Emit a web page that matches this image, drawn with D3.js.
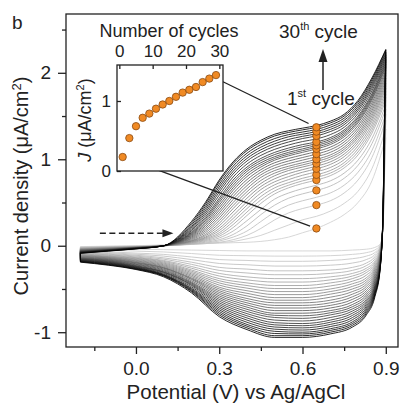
<!DOCTYPE html>
<html><head><meta charset="utf-8">
<script src="https://cdn.jsdelivr.net/npm/d3@7"></script>
<style>
html,body{margin:0;padding:0;background:#fff;}
svg{display:block;font-family:"Liberation Sans",Arial,sans-serif;}
</style></head>
<body>
<svg id="chart" width="403" height="403"></svg>
<script>
// ---------------- data ----------------
const curveCycles = d3.range(1,31);
const markerCycles = [1,3,5,7,9,11,13,15,17,19,21,23,25,27,29];
const jAt065 = [0.20,0.47,0.64,0.76,0.82,0.89,0.95,1.00,1.06,1.12,1.16,1.20,1.27,1.32,1.37];
const markerPotential = 0.65;

const fwdPotential = [-0.2,-0.1,0.0,0.1,0.2,0.25,0.3,0.35,0.4,0.45,0.5,0.55,0.6,0.65,0.7,0.75,0.8,0.85,0.9];
const fwdCurrent = [
 [-0.01,-0.005,0.0,0.01,0.02,0.025,0.03,0.035,0.04,0.05,0.07,0.10,0.15,0.20,0.27,0.36,0.50,0.75,1.25],
 [-0.015,-0.008,-0.003,0.005,0.018,0.025,0.035,0.05,0.08,0.12,0.18,0.24,0.30,0.34,0.40,0.49,0.63,0.89,1.35],
 [-0.02,-0.012,-0.006,0.0,0.015,0.025,0.04,0.07,0.12,0.20,0.30,0.38,0.43,0.47,0.52,0.61,0.76,1.02,1.45],
 [-0.022,-0.014,-0.008,0.0,0.018,0.032,0.055,0.10,0.17,0.28,0.39,0.47,0.52,0.56,0.61,0.70,0.85,1.10,1.52],
 [-0.025,-0.016,-0.01,0.0,0.02,0.04,0.07,0.13,0.23,0.36,0.47,0.55,0.60,0.64,0.69,0.78,0.93,1.18,1.58],
 [-0.028,-0.018,-0.011,0.0,0.025,0.05,0.09,0.17,0.29,0.42,0.54,0.61,0.66,0.70,0.75,0.84,0.99,1.24,1.63],
 [-0.03,-0.02,-0.012,0.0,0.03,0.06,0.11,0.21,0.35,0.49,0.60,0.67,0.72,0.76,0.81,0.90,1.05,1.30,1.68],
 [-0.032,-0.022,-0.013,0.0,0.035,0.07,0.13,0.245,0.39,0.53,0.635,0.70,0.75,0.79,0.84,0.93,1.085,1.335,1.715],
 [-0.035,-0.024,-0.014,0.0,0.04,0.08,0.15,0.28,0.43,0.57,0.67,0.73,0.78,0.82,0.87,0.96,1.12,1.37,1.75],
 [-0.038,-0.026,-0.015,0.0,0.045,0.09,0.175,0.315,0.47,0.61,0.705,0.765,0.815,0.855,0.905,0.995,1.155,1.405,1.785],
 [-0.04,-0.028,-0.016,0.0,0.05,0.10,0.20,0.35,0.51,0.65,0.74,0.80,0.85,0.89,0.94,1.03,1.19,1.44,1.82],
 [-0.042,-0.03,-0.017,0.0,0.055,0.115,0.23,0.39,0.55,0.685,0.775,0.835,0.88,0.92,0.97,1.06,1.22,1.47,1.85],
 [-0.045,-0.032,-0.018,0.0,0.06,0.13,0.26,0.43,0.59,0.72,0.81,0.87,0.91,0.95,1.00,1.09,1.25,1.50,1.88],
 [-0.048,-0.034,-0.019,0.0,0.07,0.15,0.29,0.465,0.625,0.755,0.84,0.895,0.935,0.975,1.025,1.115,1.275,1.53,1.91],
 [-0.05,-0.036,-0.02,0.0,0.08,0.17,0.32,0.50,0.66,0.79,0.87,0.92,0.96,1.00,1.05,1.14,1.30,1.56,1.94],
 [-0.052,-0.038,-0.021,0.0,0.09,0.19,0.35,0.535,0.695,0.82,0.90,0.95,0.99,1.03,1.08,1.17,1.33,1.59,1.97],
 [-0.055,-0.04,-0.022,0.0,0.10,0.21,0.38,0.57,0.73,0.85,0.93,0.98,1.02,1.06,1.11,1.20,1.36,1.62,2.00],
 [-0.058,-0.042,-0.023,0.0,0.11,0.23,0.41,0.605,0.765,0.88,0.96,1.01,1.05,1.09,1.14,1.23,1.39,1.65,2.03],
 [-0.06,-0.044,-0.024,0.0,0.12,0.25,0.44,0.64,0.80,0.91,0.99,1.04,1.08,1.12,1.17,1.26,1.42,1.68,2.06],
 [-0.062,-0.046,-0.025,0.0,0.13,0.27,0.47,0.67,0.83,0.935,1.01,1.06,1.10,1.14,1.19,1.28,1.44,1.70,2.08],
 [-0.065,-0.047,-0.026,0.0,0.14,0.29,0.50,0.70,0.86,0.96,1.03,1.08,1.12,1.16,1.21,1.30,1.46,1.72,2.10],
 [-0.068,-0.048,-0.027,0.0,0.15,0.31,0.525,0.73,0.885,0.985,1.055,1.105,1.145,1.18,1.23,1.32,1.48,1.74,2.12],
 [-0.07,-0.05,-0.028,0.0,0.16,0.33,0.55,0.76,0.91,1.01,1.08,1.13,1.17,1.20,1.25,1.34,1.50,1.76,2.14],
 [-0.072,-0.051,-0.029,0.0,0.175,0.355,0.585,0.795,0.945,1.045,1.115,1.165,1.205,1.235,1.285,1.37,1.53,1.79,2.16],
 [-0.075,-0.052,-0.03,0.0,0.19,0.38,0.62,0.83,0.98,1.08,1.15,1.20,1.24,1.27,1.32,1.40,1.56,1.82,2.18],
 [-0.078,-0.054,-0.031,0.0,0.205,0.405,0.65,0.86,1.01,1.11,1.18,1.23,1.265,1.295,1.345,1.425,1.585,1.845,2.20],
 [-0.08,-0.056,-0.032,0.0,0.22,0.43,0.68,0.89,1.04,1.14,1.21,1.26,1.29,1.32,1.37,1.45,1.61,1.87,2.22],
 [-0.082,-0.058,-0.034,0.0,0.24,0.455,0.71,0.92,1.07,1.17,1.24,1.285,1.315,1.345,1.395,1.475,1.635,1.895,2.24],
 [-0.085,-0.06,-0.035,0.0,0.26,0.48,0.74,0.95,1.10,1.20,1.27,1.31,1.34,1.37,1.42,1.50,1.66,1.92,2.26],
 [-0.088,-0.062,-0.036,0.0,0.28,0.50,0.76,0.97,1.12,1.22,1.29,1.33,1.36,1.39,1.44,1.52,1.68,1.94,2.27]
];

const revPotential = [0.9,0.895,0.89,0.88,0.86,0.83,0.78,0.7,0.6,0.5,0.4,0.3,0.2,0.1,0.0,-0.1,-0.2];
const revCurrent = [
 [1.25,0.75,0.18,0.02,-0.02,-0.04,-0.05,-0.06,-0.06,-0.06,-0.06,-0.055,-0.05,-0.045,-0.04,-0.035,-0.03],
 [1.35,0.80,0.19,0.01,-0.05,-0.08,-0.10,-0.115,-0.12,-0.12,-0.115,-0.11,-0.09,-0.072,-0.062,-0.052,-0.045],
 [1.45,0.85,0.20,0.0,-0.08,-0.12,-0.15,-0.17,-0.18,-0.18,-0.17,-0.16,-0.13,-0.10,-0.085,-0.07,-0.06],
 [1.52,0.88,0.21,-0.01,-0.105,-0.16,-0.20,-0.225,-0.235,-0.235,-0.22,-0.205,-0.16,-0.12,-0.098,-0.08,-0.068],
 [1.58,0.92,0.22,-0.02,-0.13,-0.20,-0.25,-0.28,-0.29,-0.29,-0.27,-0.25,-0.19,-0.14,-0.11,-0.09,-0.075],
 [1.63,0.95,0.23,-0.03,-0.155,-0.23,-0.285,-0.32,-0.335,-0.335,-0.315,-0.285,-0.215,-0.155,-0.12,-0.098,-0.082],
 [1.68,0.98,0.24,-0.04,-0.18,-0.26,-0.32,-0.36,-0.38,-0.38,-0.36,-0.32,-0.24,-0.17,-0.13,-0.105,-0.09],
 [1.715,1.00,0.245,-0.05,-0.20,-0.285,-0.35,-0.395,-0.42,-0.42,-0.395,-0.35,-0.26,-0.18,-0.138,-0.112,-0.095],
 [1.75,1.02,0.25,-0.06,-0.22,-0.31,-0.38,-0.43,-0.46,-0.46,-0.43,-0.38,-0.28,-0.19,-0.145,-0.12,-0.10],
 [1.785,1.04,0.255,-0.07,-0.24,-0.34,-0.41,-0.465,-0.495,-0.495,-0.46,-0.405,-0.295,-0.20,-0.152,-0.125,-0.105],
 [1.82,1.06,0.26,-0.08,-0.26,-0.37,-0.44,-0.50,-0.53,-0.53,-0.49,-0.43,-0.31,-0.21,-0.16,-0.13,-0.11],
 [1.85,1.08,0.265,-0.09,-0.28,-0.395,-0.47,-0.53,-0.565,-0.565,-0.52,-0.455,-0.325,-0.22,-0.168,-0.135,-0.115],
 [1.88,1.10,0.27,-0.10,-0.30,-0.42,-0.50,-0.56,-0.60,-0.60,-0.55,-0.48,-0.34,-0.23,-0.175,-0.14,-0.12],
 [1.91,1.12,0.275,-0.11,-0.32,-0.445,-0.53,-0.595,-0.63,-0.63,-0.58,-0.50,-0.355,-0.24,-0.182,-0.145,-0.125],
 [1.94,1.14,0.28,-0.12,-0.34,-0.47,-0.56,-0.63,-0.66,-0.66,-0.61,-0.52,-0.37,-0.25,-0.19,-0.15,-0.13],
 [1.97,1.16,0.285,-0.13,-0.36,-0.495,-0.59,-0.66,-0.69,-0.69,-0.635,-0.54,-0.38,-0.255,-0.195,-0.155,-0.135],
 [2.00,1.18,0.29,-0.14,-0.38,-0.52,-0.62,-0.69,-0.72,-0.72,-0.66,-0.56,-0.39,-0.26,-0.20,-0.16,-0.14],
 [2.03,1.20,0.295,-0.15,-0.40,-0.545,-0.65,-0.72,-0.75,-0.75,-0.685,-0.58,-0.405,-0.27,-0.208,-0.165,-0.144],
 [2.06,1.22,0.30,-0.16,-0.42,-0.57,-0.68,-0.75,-0.78,-0.78,-0.71,-0.60,-0.42,-0.28,-0.215,-0.17,-0.147],
 [2.08,1.235,0.31,-0.17,-0.44,-0.595,-0.705,-0.775,-0.81,-0.805,-0.735,-0.62,-0.43,-0.29,-0.222,-0.175,-0.151],
 [2.10,1.25,0.32,-0.18,-0.46,-0.62,-0.73,-0.80,-0.84,-0.83,-0.76,-0.64,-0.44,-0.30,-0.23,-0.18,-0.155],
 [2.12,1.265,0.33,-0.19,-0.475,-0.64,-0.755,-0.83,-0.87,-0.86,-0.785,-0.66,-0.45,-0.305,-0.235,-0.185,-0.158],
 [2.14,1.28,0.34,-0.20,-0.49,-0.66,-0.78,-0.86,-0.90,-0.89,-0.81,-0.68,-0.46,-0.31,-0.24,-0.19,-0.162],
 [2.16,1.30,0.35,-0.21,-0.505,-0.68,-0.805,-0.885,-0.925,-0.915,-0.835,-0.70,-0.475,-0.32,-0.245,-0.195,-0.166],
 [2.18,1.32,0.36,-0.22,-0.52,-0.70,-0.83,-0.91,-0.95,-0.94,-0.86,-0.72,-0.49,-0.33,-0.25,-0.20,-0.17],
 [2.20,1.34,0.37,-0.23,-0.535,-0.72,-0.855,-0.935,-0.975,-0.965,-0.885,-0.74,-0.50,-0.335,-0.255,-0.205,-0.174],
 [2.22,1.36,0.38,-0.24,-0.55,-0.74,-0.88,-0.96,-1.00,-0.99,-0.91,-0.76,-0.51,-0.34,-0.26,-0.21,-0.178],
 [2.24,1.38,0.39,-0.245,-0.565,-0.76,-0.90,-0.98,-1.02,-1.015,-0.93,-0.78,-0.52,-0.345,-0.265,-0.215,-0.182],
 [2.26,1.40,0.40,-0.25,-0.58,-0.78,-0.92,-1.00,-1.04,-1.04,-0.95,-0.80,-0.53,-0.35,-0.27,-0.22,-0.185],
 [2.27,1.42,0.41,-0.26,-0.60,-0.80,-0.94,-1.02,-1.06,-1.06,-0.97,-0.82,-0.545,-0.36,-0.275,-0.225,-0.19]
];

const xMajorTicks = [0.0,0.3,0.6,0.9];
const xMinorTicks = [-0.15,0.15,0.45,0.75];
const yMajorTicks = [-1,0,1,2];
const yMinorTicks = [-0.5,0.5,1.5,2.5];
const insetXTicks = [0,10,20,30];
const insetYTicks = [0,1];

// ---------------- layout ----------------
const svg = d3.select("#chart");
const P = {l:66, r:398, t:14, b:347};
const x = d3.scaleLinear().domain([-0.252,0.944]).range([P.l,P.r]);
const y = d3.scaleLinear().domain([-1.171,2.68]).range([P.b,P.t]);

const I = {l:117, r:223, t:65, b:171};
const ix = d3.scaleLinear().domain([-0.7,31.1]).range([I.l,I.r]);
const iy = d3.scaleLinear().domain([0,1.514]).range([I.b,I.t]);

svg.append("defs").append("clipPath").attr("id","clipMain")
  .append("rect").attr("x",P.l).attr("y",P.t).attr("width",P.r-P.l).attr("height",P.b-P.t);

// curves
const nC = curveCycles.length;
const color = k => d3.interpolateRgb("#d0d0d0","#000000")(Math.pow(k/(nC-1),1.1));
const line = d3.line().x(d=>x(d[0])).y(d=>y(d[1])).curve(d3.curveMonotoneX);
const gCurves = svg.append("g").attr("clip-path","url(#clipMain)");
curveCycles.forEach((c,k)=>{
  const fwd = fwdPotential.map((e,i)=>[e,fwdCurrent[k][i]]);
  const rev = revPotential.map((e,i)=>[e,revCurrent[k][i]]).reverse();
  const g = gCurves.append("g").attr("fill","none").attr("stroke",color(k)).attr("stroke-width",0.85);
  g.append("path").attr("d",line(fwd));
  g.append("path").attr("d",line(rev));
  g.append("line").attr("x1",x(fwdPotential[0])).attr("x2",x(fwdPotential[0]))
    .attr("y1",y(fwdCurrent[k][0])).attr("y2",y(revCurrent[k][revCurrent[k].length-1]));
});

// main frame + axes
svg.append("rect").attr("x",P.l).attr("y",P.t).attr("width",P.r-P.l).attr("height",P.b-P.t)
  .attr("fill","none").attr("stroke","#222").attr("stroke-width",1.3);

const axStyle = g => { g.select(".domain").remove(); g.selectAll("line").attr("stroke","#222").attr("stroke-width",1.3);
  g.selectAll("text").attr("fill","#222").style("font-family","'Liberation Sans',Arial,sans-serif"); };

svg.append("g").attr("transform",`translate(0,${P.b})`)
  .call(d3.axisBottom(x).tickValues(xMajorTicks).tickFormat(d3.format(".1f")).tickSize(7).tickPadding(8))
  .call(axStyle).selectAll("text").style("font-size","19px");
svg.append("g").attr("transform",`translate(0,${P.b})`)
  .call(d3.axisBottom(x).tickValues(xMinorTicks).tickFormat("").tickSize(4)).call(axStyle);
svg.append("g").attr("transform",`translate(${P.l},0)`)
  .call(d3.axisLeft(y).tickValues(yMajorTicks).tickFormat(d=>String(d)).tickSize(8).tickPadding(7))
  .call(axStyle).selectAll("text").style("font-size","19px");
svg.append("g").attr("transform",`translate(${P.l},0)`)
  .call(d3.axisLeft(y).tickValues(yMinorTicks).tickFormat("").tickSize(4)).call(axStyle);

// axis titles
svg.append("text").attr("x",236).attr("y",399).attr("text-anchor","middle")
  .style("font-size","20.5px").attr("fill","#222").text("Potential (V) vs Ag/AgCl");
const yt = svg.append("text").attr("transform","translate(28,186) rotate(-90)").attr("text-anchor","middle")
  .style("font-size","20px").attr("fill","#222");
yt.append("tspan").text("Current density (\u03BCA/cm");
yt.append("tspan").attr("dy",-7).style("font-size","13px").text("2");
yt.append("tspan").attr("dy",7).text(")");

svg.append("text").attr("x",12).attr("y",29).style("font-size","19px").attr("fill","#222").text("b");

// dashed scan-direction arrow
const arrY = y(0.145);
svg.append("line").attr("x1",x(-0.13)).attr("x2",x(0.11)).attr("y1",arrY).attr("y2",arrY)
  .attr("stroke","#222").attr("stroke-width",1.5).attr("stroke-dasharray","6,3.5");
svg.append("path").attr("d",`M${x(0.135)},${arrY} L${x(0.135)-11},${arrY-4} L${x(0.135)-11},${arrY+4} Z`).attr("fill","#222");

// cycle annotations
const t30 = svg.append("text").attr("x",279).attr("y",38).style("font-size","19px").attr("fill","#222");
t30.append("tspan").text("30");
t30.append("tspan").attr("dy",-8).style("font-size","11px").text("th");
t30.append("tspan").attr("dy",8).text(" cycle");
const t1 = svg.append("text").attr("x",287).attr("y",105).style("font-size","19px").attr("fill","#222");
t1.append("tspan").text("1");
t1.append("tspan").attr("dy",-8).style("font-size","11px").text("st");
t1.append("tspan").attr("dy",8).text(" cycle");
svg.append("line").attr("x1",323).attr("x2",323).attr("y1",90).attr("y2",60).attr("stroke","#222").attr("stroke-width",1.5);
svg.append("path").attr("d","M323,49 L318.5,62 L327.5,62 Z").attr("fill","#222");

// connector lines
const r = 3.7;
const mainPts = jAt065.map(v=>[x(markerPotential),y(v)]);
const insetPts = jAt065.map((v,i)=>[ix(markerCycles[i]),iy(v)]);
function seg(a,b,startTrim,endTrim){
  const dx=b[0]-a[0], dy=b[1]-a[1], L=Math.hypot(dx,dy);
  return [a[0]+dx*startTrim/L, a[1]+dy*startTrim/L, b[0]-dx*endTrim/L, b[1]-dy*endTrim/L];
}
{ const a=insetPts[0], b=mainPts[0]; const s=seg(a,b,r+3,r+3);
  svg.append("line").attr("x1",s[0]).attr("y1",s[1]).attr("x2",s[2]).attr("y2",s[3]).attr("stroke","#222").attr("stroke-width",1.3); }
{ const a=insetPts[insetPts.length-1], b=mainPts[mainPts.length-1];
  const tEdge=(I.r-a[0])/(b[0]-a[0]); const sx=I.r, sy=a[1]+(b[1]-a[1])*tEdge+3;
  const s=seg([sx,sy],b,0,r+5);
  svg.append("line").attr("x1",s[0]).attr("y1",s[1]).attr("x2",s[2]).attr("y2",s[3]).attr("stroke","#222").attr("stroke-width",1.3); }

// main markers
svg.append("g").selectAll("circle").data(jAt065).join("circle")
  .attr("cx",x(markerPotential)).attr("cy",d=>y(d)).attr("r",r)
  .attr("fill","#f08a24").attr("stroke","#8a4a12").attr("stroke-width",0.8);

// inset
svg.append("rect").attr("x",I.l).attr("y",I.t).attr("width",I.r-I.l).attr("height",I.b-I.t)
  .attr("fill","#fff").attr("stroke","#222").attr("stroke-width",1.3);
svg.append("g").attr("transform",`translate(0,${I.t})`)
  .call(d3.axisTop(ix).tickValues(insetXTicks).tickFormat(d=>String(d)).tickSize(-4).tickPadding(8))
  .call(axStyle).selectAll("text").style("font-size","17px");
svg.append("g").attr("transform",`translate(${I.l},0)`)
  .call(d3.axisLeft(iy).tickValues(insetYTicks).tickFormat(d=>String(d)).tickSize(-4).tickPadding(6))
  .call(axStyle).selectAll("text").style("font-size","17px");
svg.append("text").attr("x",169).attr("y",37).attr("text-anchor","middle").style("font-size","18px")
  .attr("fill","#222").text("Number of cycles");
const jt = svg.append("text").attr("transform","translate(91,120) rotate(-90)").attr("text-anchor","middle")
  .style("font-size","18px").attr("fill","#222");
jt.append("tspan").style("font-style","italic").text("J");
jt.append("tspan").text(" (\u03BCA/cm");
jt.append("tspan").attr("dy",-7).style("font-size","11px").text("2");
jt.append("tspan").attr("dy",7).text(")");
svg.append("g").selectAll("circle").data(jAt065).join("circle")
  .attr("cx",(d,i)=>ix(markerCycles[i])).attr("cy",d=>iy(d)).attr("r",r)
  .attr("fill","#f08a24").attr("stroke","#8a4a12").attr("stroke-width",0.8);
</script>
</body></html>
